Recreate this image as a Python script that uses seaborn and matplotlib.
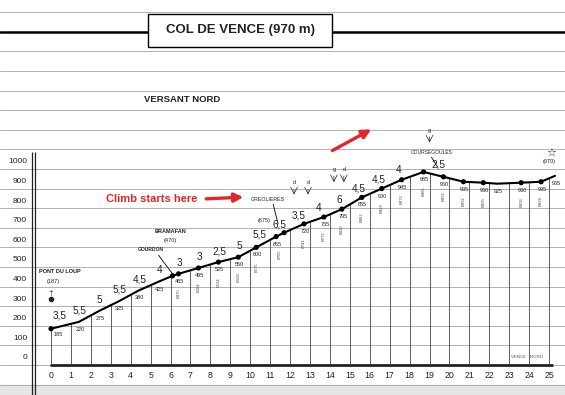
import numpy as np
import matplotlib
matplotlib.use("Agg")
import matplotlib.pyplot as plt
import seaborn as sns
from matplotlib.patches import Rectangle

# profile: distance (km) and altitude (m) at each marked point
km_pts = [0, 1.4, 2.4, 3.4, 4.4, 5.4, 6.1, 6.4, 7.4, 8.4, 9.4, 10.3, 11.3, 11.7,
          12.7, 13.7, 14.6, 15.6, 16.6, 17.6, 18.7, 19.7, 20.7, 21.7, 22.4, 23.6,
          24.6, 25.3]
alt_pts = [185, 220, 275, 325, 380, 425, 455, 465, 495, 525, 550, 600, 655, 675,
           720, 755, 795, 855, 900, 945, 985, 960, 935, 930, 925, 930, 935, 965]
has_dot = [1, 0, 0, 0, 0, 0, 1, 1, 1, 1, 1, 1, 1, 1,
           1, 1, 1, 1, 1, 1, 1, 1, 1, 1, 0, 1, 1, 0]
has_label = [1, 1, 1, 1, 1, 1, 0, 1, 1, 1, 1, 1, 1, 0,
             1, 1, 1, 1, 1, 1, 1, 1, 1, 1, 1, 1, 1, 1]

# gradient (%) per kilometre, by starting km
grad_km = [0, 1, 2, 3, 4, 5, 6, 7, 8, 9, 10, 11, 12, 13, 14, 15, 16, 17, 19]
grad_vals = [3.5, 5.5, 5, 5.5, 4.5, 4, 3, 3, 2.5, 5, 5.5, 6.5, 3.5, 4, 6, 4.5,
             4.5, 4, 2.5]

# road milestones ("bornes")
borne_km = [6.4, 7.4, 8.4, 9.4, 10.3, 11.5, 12.7, 13.7, 14.6, 15.6, 16.6, 17.6,
            18.7, 19.7, 20.7, 21.7, 23.6, 24.6]
borne_txt = ["B475", "B504", "B534", "B558", "B575", "B705", "B741", "B772",
             "B826", "B862", "B926", "B972", "B981", "B932", "B932", "B925",
             "B936", "B938"]

y_ticks = [0, 100, 200, 300, 400, 500, 600, 700, 800, 900, 1000]
x_ticks = list(range(26))

RED = "#e3262b"
INK = "#222222"

sns.set_theme(style="white")
plt.rcParams["font.family"] = ["Liberation Sans", "DejaVu Sans"]

fig = plt.figure(figsize=(5.65, 3.95), dpi=100)
ax = fig.add_axes([0, 0, 1, 1])
ax.set_xlim(-2.56, 25.8)
ax.set_ylim(-153, 1862)
ax.axis("off")


def prof(k):
    return np.interp(k, km_pts, alt_pts)


# ruled paper lines + scan shadow at the bottom
ax.axhspan(-153, -100, color="#e6e6e6", zorder=0)
for a in range(-100, 1900, 100):
    ax.axhline(a, color="#a4a4a4", lw=0.6, zorder=1)
ax.axhline(1700, color="black", lw=1.8, zorder=1)

# title box
ax.add_patch(Rectangle((148 / 565, 1 - 47 / 395), 184 / 565, 33 / 395,
                       transform=ax.transAxes, fc="white", ec="black", lw=1.0,
                       zorder=3))
ax.text(240 / 565, 1 - 30 / 395, "COL DE VENCE (970 m)", transform=ax.transAxes,
        ha="center", va="center", fontsize=9.5, fontweight="bold", color=INK,
        zorder=4)
ax.text(144 / 565, 1 - 100 / 395, "VERSANT NORD", transform=ax.transAxes,
        ha="left", va="center", fontsize=6.8, fontweight="bold", color=INK)

# double y axis line and baseline
ax.vlines([-0.94, -0.82], -153, 1085, color=INK, lw=0.9, zorder=2)
ax.hlines(0, -0.05, 25.2, color=INK, lw=2.0, zorder=2)

for a in y_ticks:
    ax.text(-1.2, a + 36, str(a), ha="right", va="center", fontsize=6,
            color=INK)
for k in x_ticks:
    ax.text(k, -52, str(k), ha="center", va="center", fontsize=6.3, color=INK)

# drop lines at each km
ax.vlines(x_ticks, 0, prof(x_ticks), color="#444444", lw=0.6, zorder=2)

# profile
sns.lineplot(x=km_pts, y=alt_pts, ax=ax, color="black", lw=1.5, sort=False,
             zorder=5)
dot_k = [k for k, d in zip(km_pts, has_dot) if d]
dot_a = [a for a, d in zip(alt_pts, has_dot) if d]
sns.scatterplot(x=dot_k, y=dot_a, ax=ax, color="black", s=14, edgecolor="none",
                zorder=6)

for k, a, show in zip(km_pts, alt_pts, has_label):
    if not show:
        continue
    if k == 0:
        ax.text(k + 0.15, a - 28, str(a), ha="left", va="center", fontsize=4,
                color=INK)
    else:
        ax.text(k + 0.05, a - 38, str(a), ha="center", va="center",
                fontsize=4, color=INK)

for k, g in zip(grad_km, grad_vals):
    x = k + 0.45
    ax.text(x, prof(x) + 55, f"{g:g}".replace(".", ","), ha="center",
            va="center", fontsize=7.2, color=INK)

for k, t in zip(borne_km, borne_txt):
    ax.text(k, prof(k) - 100, t, rotation=90, ha="center", va="center",
            fontsize=3, color="#444444")

# place names and road signs
small = dict(fontsize=4, color=INK)
ax.text(-0.6, 475, "PONT DU LOUP", ha="left", va="center", fontweight="bold",
        **small)
ax.text(0.1, 428, "(187)", ha="center", va="center", **small)
ax.text(0, 365, "\u2020", ha="center", va="center", fontsize=6, color=INK)
ax.plot([0], [337], "o", color=INK, ms=3)

ax.text(6.0, 680, "BRAMAFAN", ha="center", va="center", fontweight="bold",
        **small)
ax.text(5.98, 635, "(470)", ha="center", va="center", **small)
ax.text(5.0, 590, "GOURDON", ha="center", va="center", fontweight="bold",
        fontsize=3.6, color=INK)
ax.plot([5.4, 6.1], [560, 465], color=INK, lw=0.7)

ax.text(10.9, 845, "GREOLIERES", ha="center", va="center", fontsize=3.8,
        color=INK)
ax.plot([11.15, 11.4], [820, 720], color=INK, lw=0.7)
ax.text(10.7, 735, "(675)", ha="center", va="center", **small)

for k, t in [(12.2, "d"), (12.9, "d")]:
    ax.text(k, 930, t, ha="center", va="center", fontsize=4, color=INK)
    ax.annotate("", xy=(k, 855), xytext=(k, 910),
                arrowprops=dict(arrowstyle="->", lw=0.5, color=INK))
for k, t in [(14.2, "g"), (14.7, "d")]:
    ax.text(k, 995, t, ha="center", va="center", fontsize=4, color=INK)
    ax.annotate("", xy=(k, 918), xytext=(k, 978),
                arrowprops=dict(arrowstyle="->", lw=0.5, color=INK))
ax.text(19.0, 1195, "g", ha="center", va="center", fontsize=4, color=INK)
ax.annotate("", xy=(19.0, 1120), xytext=(19.0, 1178),
            arrowprops=dict(arrowstyle="->", lw=0.5, color=INK))
ax.text(19.1, 1083, "COURSEGOULES", ha="center", va="center", fontsize=3.6,
        color=INK)
ax.plot([19.1, 19.4], [1060, 1010], color=INK, lw=0.7)

ax.text(25.1, 1085, "\u2606", ha="center", va="center", fontsize=8, color=INK)
ax.text(25.0, 1040, "(970)", ha="center", va="center", fontsize=4, color=INK)
ax.text(23.9, 40, "VENCE   NORD", ha="center", va="center", fontsize=3.2,
        color="#555555")

# red callouts
ax.text(5.07, 847, "Climb starts here", ha="center", va="center", fontsize=8,
        fontweight="bold", color=RED)
ax.annotate("", xy=(9.8, 857), xytext=(7.65, 847),
            arrowprops=dict(arrowstyle="-|>", color=RED, lw=2.4,
                            mutation_scale=13))
ax.annotate("", xy=(16.2, 1209), xytext=(14.0, 1087),
            arrowprops=dict(arrowstyle="-|>", color=RED, lw=2.4,
                            mutation_scale=13))

fig.savefig("out.png", dpi=100, facecolor="white")
